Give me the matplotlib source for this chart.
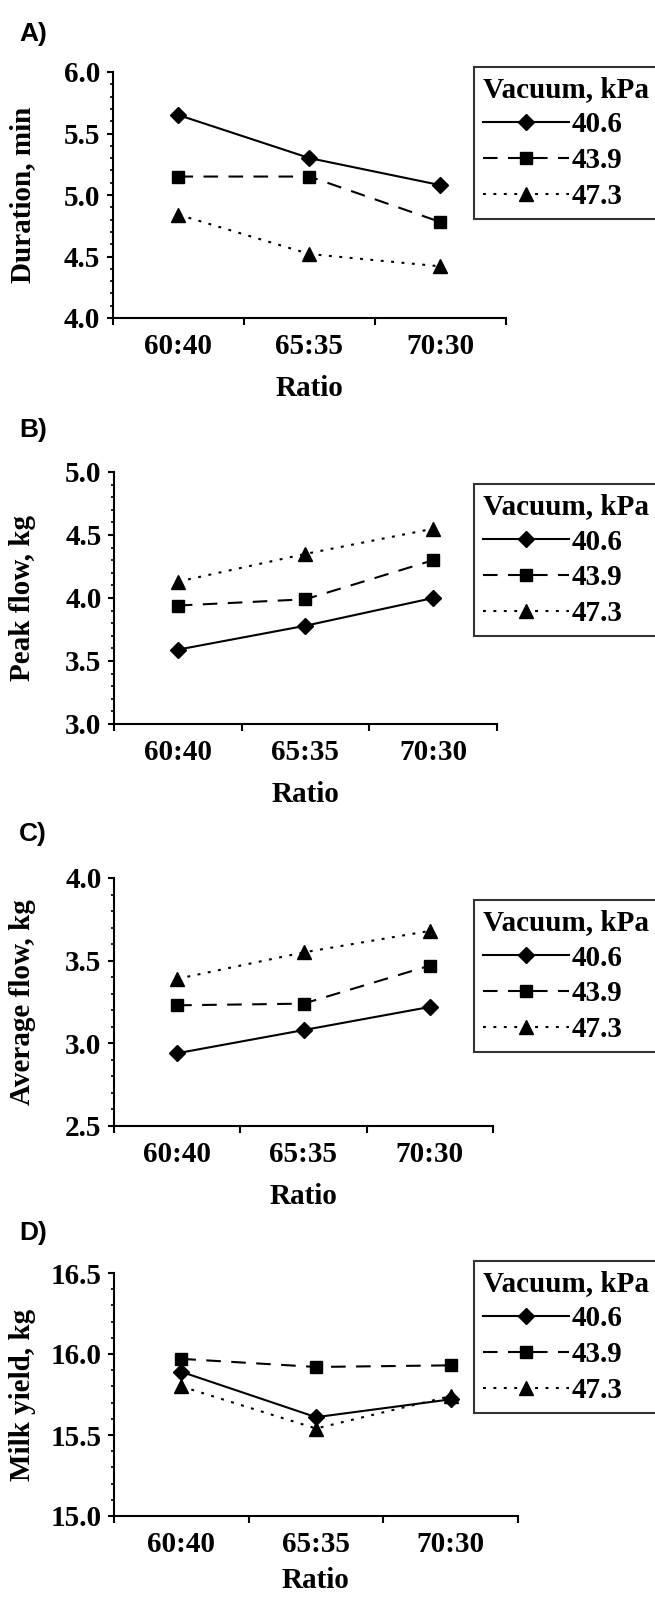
import matplotlib
matplotlib.use('Agg')
import matplotlib.pyplot as plt
from matplotlib.ticker import MultipleLocator, FixedLocator, NullFormatter, FormatStrFormatter

# data
ratios = ['60:40', '65:35', '70:30']
vacuum = ['40.6', '43.9', '47.3']

duration_406 = [5.65, 5.30, 5.08]
duration_439 = [5.15, 5.15, 4.78]
duration_473 = [4.84, 4.52, 4.42]

peak_406 = [3.59, 3.78, 4.00]
peak_439 = [3.94, 3.99, 4.30]
peak_473 = [4.13, 4.35, 4.55]

avg_406 = [2.94, 3.08, 3.22]
avg_439 = [3.23, 3.24, 3.47]
avg_473 = [3.39, 3.55, 3.68]

milk_406 = [15.89, 15.61, 15.72]
milk_439 = [15.97, 15.92, 15.93]
milk_473 = [15.80, 15.54, 15.74]

panel_letters = ['A)', 'B)', 'C)', 'D)']
y_labels = ['Duration, min', 'Peak flow, kg', 'Average flow, kg', 'Milk yield, kg']
y_limits = [(4.0, 6.0), (3.0, 5.0), (2.5, 4.0), (15.0, 16.5)]

W, H = 655, 1597
fig = plt.figure(figsize=(W / 100, H / 100), dpi=100)

serif = 'Liberation Serif'
sans = 'Liberation Sans'
fs = 21

# pixel boxes: left, right, top, bottom
boxes = [(113, 506, 72, 318), (114, 497, 472, 724), (114, 493, 878, 1126), (114, 518, 1273, 1516)]
letter_y = [34, 430, 834, 1233]
legend_top = [67, 484, 900, 1261]
xlabel_gap = [71, 71, 71, 65]

series = [
    [duration_406, duration_439, duration_473],
    [peak_406, peak_439, peak_473],
    [avg_406, avg_439, avg_473],
    [milk_406, milk_439, milk_473],
]
markers = ['D', 's', '^']
msizes = [8, 9, 10]
styles = ['-', (0, (7, 5)), (0, (1.4, 3.6))]

x = [1, 2, 3]
for i in range(4):
    l, r, t, b = boxes[i]
    ax = fig.add_axes([l / W, 1 - b / H, (r - l) / W, (b - t) / H])
    for vals, mk, ms, ls, lab in zip(series[i], markers, msizes, styles, vacuum):
        ax.plot(x, vals, color='black', lw=1.5, linestyle=ls, marker=mk,
                markersize=ms, label=lab)
    ax.set_xlim(0.5, 3.5)
    ax.set_ylim(*y_limits[i])
    ax.spines['top'].set_visible(False)
    ax.spines['right'].set_visible(False)
    ax.spines['left'].set_linewidth(1.5)
    ax.spines['bottom'].set_linewidth(1.5)

    # x: ticks between categories, labels at categories
    ax.xaxis.set_major_locator(FixedLocator([0.5, 1.5, 2.5, 3.5]))
    ax.xaxis.set_major_formatter(NullFormatter())
    ax.xaxis.set_minor_locator(FixedLocator(x))
    ax.set_xticklabels(ratios, minor=True)
    ax.tick_params(axis='x', which='major', direction='out', length=5, width=1.5)
    ax.tick_params(axis='x', which='minor', length=0, pad=11)

    ax.yaxis.set_major_locator(MultipleLocator(0.5))
    ax.yaxis.set_minor_locator(MultipleLocator(0.1))
    ax.yaxis.set_major_formatter(FormatStrFormatter('%.1f'))
    ax.tick_params(axis='y', which='major', direction='out', length=4, width=1.5, pad=5)
    ax.tick_params(axis='y', which='minor', direction='out', length=2.5, width=1.2)

    for lbl in ax.get_xticklabels(minor=True) + ax.get_yticklabels():
        lbl.set_fontfamily(serif)
        lbl.set_fontweight('bold')
        lbl.set_fontsize(fs)

    ax.set_ylabel(y_labels[i], fontfamily=serif, fontweight='bold', fontsize=fs)
    ax.yaxis.set_label_coords(36 / W, 1 - (t + b) / 2 / H, transform=fig.transFigure)
    ax.set_xlabel('Ratio', fontfamily=serif, fontweight='bold', fontsize=fs, va='center')
    ax.xaxis.set_label_coords(0.5 * (l + r) / W, 1 - (b + xlabel_gap[i]) / H,
                              transform=fig.transFigure)

    fig.text(19 / W, 1 - letter_y[i] / H, panel_letters[i], fontfamily=sans,
             fontweight='bold', fontsize=19, va='center', ha='left')

    leg = ax.legend(loc='upper left', bbox_to_anchor=(474 / W, 1 - legend_top[i] / H),
                    bbox_transform=fig.transFigure, borderaxespad=0,
                    title='Vacuum, kPa', alignment='left', frameon=True, fancybox=False,
                    handlelength=2.95, handletextpad=0.1, labelspacing=0.3,
                    borderpad=0.3, prop={'family': serif, 'weight': 'bold', 'size': fs},
                    title_fontproperties={'family': serif, 'weight': 'bold', 'size': fs})
    leg.get_frame().set_edgecolor('black')
    leg.get_frame().set_linewidth(1.5)

fig.savefig('out.png', dpi=100)
